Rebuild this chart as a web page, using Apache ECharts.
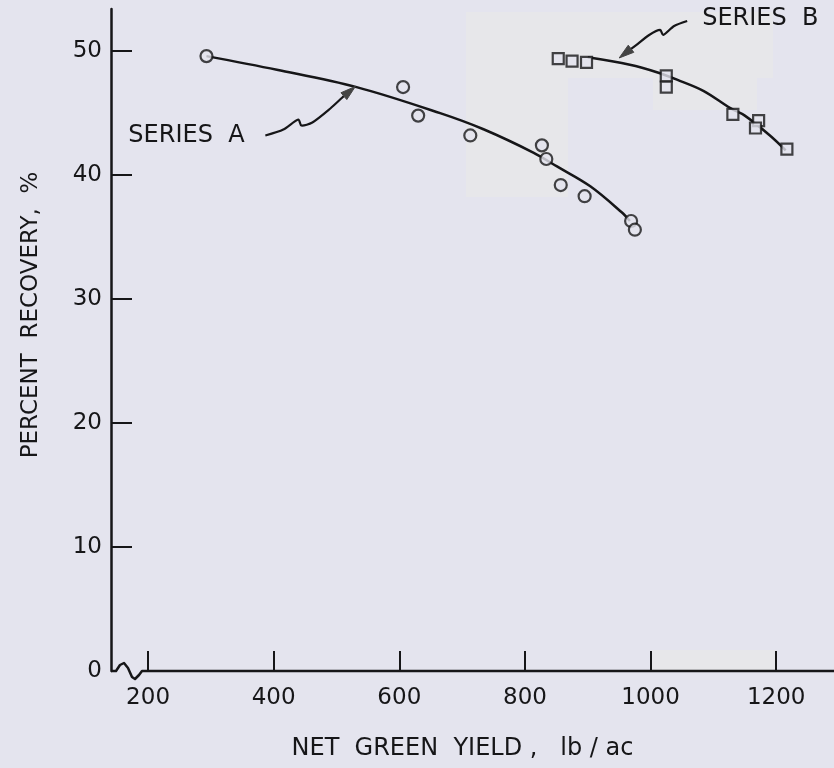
<!DOCTYPE html>
<html>
<head>
<meta charset="utf-8">
<script src="https://cdn.jsdelivr.net/npm/echarts@6/dist/echarts.min.js"></script>
<style>
  html, body { margin: 0; padding: 0; background: #e4e4ee; }
  #chart { width: 834px; height: 768px; }
</style>
</head>
<body>
<div id="chart"></div>
<script>
// Axis ticks
const xTicks = [200, 400, 600, 800, 1000, 1200];
const yTicks = [0, 10, 20, 30, 40, 50];

// Observations: [net green yield (lb/ac), percent recovery]
const seriesAPoints = [
  [293, 49.6], [606, 47.1], [630, 44.8], [713, 43.2], [827, 42.4],
  [834, 41.3], [857, 39.2], [895, 38.3], [969, 36.3], [975, 35.6]
];
const seriesBPoints = [
  [853, 49.4], [875, 49.2], [898, 49.1], [1025, 48.0], [1025, 47.1],
  [1131, 44.9], [1172, 44.4], [1167, 43.8], [1217, 42.1]
];

// Hand-fitted curves through each series
const seriesACurve = [
  [293, 49.6], [405, 48.5], [532, 47.1], [665, 45.0], [734, 43.7],
  [814, 41.8], [851, 40.7], [904, 39.1], [954, 37.0], [967, 36.3]
];
const seriesBCurve = [
  [900, 49.5], [967, 48.9], [1010, 48.3], [1042, 47.7], [1084, 46.8],
  [1127, 45.4], [1150, 44.8], [1190, 43.2], [1215, 42.0]
];

const seriesLabels = ['SERIES  A', 'SERIES  B'];
const xTitle = 'NET  GREEN  YIELD ,   lb / ac';
const yTitle = 'PERCENT  RECOVERY,  %';

const BG = '#e4e4ee';
const INK = '#161618';
const FONT = 'DejaVu Sans';
const X_MIN = 141;

const plain = v => String(v);

const chart = echarts.init(document.getElementById('chart'), null, { renderer: 'canvas' });

chart.setOption({
  backgroundColor: BG,
  animation: false,
  grid: { left: 111, right: 0, top: 9, bottom: 97 },
  xAxis: {
    type: 'value',
    min: X_MIN,
    max: 1292,
    axisLine: { show: false },
    axisTick: {
      show: true, inside: true, length: 20, customValues: xTicks,
      lineStyle: { color: INK, width: 2 }
    },
    axisLabel: {
      customValues: xTicks, margin: 16, fontSize: 23, color: INK,
      fontFamily: FONT, formatter: plain
    },
    splitLine: { show: false },
    name: xTitle,
    nameLocation: 'middle',
    nameGap: 66,
    nameTextStyle: { fontSize: 24, color: INK, fontFamily: FONT, padding: [0, 20, 0, 0] }
  },
  yAxis: {
    type: 'value',
    min: 0,
    max: 53.4,
    axisLine: { show: true, lineStyle: { color: INK, width: 2.5, cap: 'round' } },
    axisTick: {
      show: true, inside: true, length: 21, customValues: [10, 20, 30, 40, 50],
      lineStyle: { color: INK, width: 2 }
    },
    axisLabel: {
      customValues: yTicks, margin: 9, fontSize: 23, color: INK,
      fontFamily: FONT, formatter: plain
    },
    splitLine: { show: false },
    name: yTitle,
    nameLocation: 'middle',
    nameGap: 68,
    nameRotate: 90,
    nameTextStyle: { fontSize: 23, color: INK, fontFamily: FONT, padding: [0, 0, 0, 50] }
  },
  series: [
    {
      name: 'curveA', type: 'line', data: seriesACurve, smooth: 0.35,
      showSymbol: false, silent: true, z: 2,
      lineStyle: { color: INK, width: 2.5 }
    },
    {
      name: 'curveB', type: 'line', data: seriesBCurve, smooth: 0.35,
      showSymbol: false, silent: true, z: 2,
      lineStyle: { color: INK, width: 2.5 }
    },
    {
      name: 'Series A', type: 'scatter', data: seriesAPoints, symbol: 'circle',
      symbolSize: 12, z: 3,
      itemStyle: { color: BG, borderColor: INK, borderWidth: 2.2 }
    },
    {
      name: 'Series B', type: 'scatter', data: seriesBPoints, symbol: 'rect',
      symbolSize: 11, z: 3,
      itemStyle: { color: BG, borderColor: INK, borderWidth: 2.2 }
    }
  ]
});

// Decorations drawn in pixel space around points located by the axes
function px(v) { return chart.convertToPixel({ gridIndex: 0 }, v); }

function arrow(tip, offsets) {
  const pts = offsets.map(o => [tip[0] + o[0], tip[1] + o[1]]);
  const last = pts[pts.length - 1];
  const dx = tip[0] - last[0], dy = tip[1] - last[1];
  const len = Math.hypot(dx, dy);
  const ux = dx / len, uy = dy / len;
  const headLen = 15, headW = 4.5;
  const base = [tip[0] - ux * headLen, tip[1] - uy * headLen];
  pts.push(base);
  return [
    {
      type: 'polyline', z: 5, silent: true,
      shape: { points: pts, smooth: 0.25 },
      style: { stroke: INK, lineWidth: 2.2, fill: null }
    },
    {
      type: 'polygon', z: 5, silent: true,
      shape: {
        points: [
          tip,
          [base[0] - uy * headW, base[1] + ux * headW],
          [base[0] + uy * headW, base[1] - ux * headW]
        ]
      },
      style: { fill: '#444', stroke: '#444', lineWidth: 1 }
    }
  ];
}

const origin = px([X_MIN, 0]);
const xEnd = 834;
const ox = origin[0], oy = origin[1];

// Axis break: short hook off the y axis, a zigzag, then the x axis line
const xAxisParts = [
  {
    type: 'polyline', z: 4, silent: true,
    shape: {
      points: [
        [ox, oy], [ox + 5, oy], [ox + 9, oy - 6], [ox + 13, oy - 8],
        [ox + 17, oy - 3], [ox + 21, oy + 6], [ox + 24, oy + 8],
        [ox + 28, oy + 4], [ox + 31, oy], [xEnd, oy]
      ],
      smooth: 0
    },
    style: { stroke: INK, lineWidth: 2.5, fill: null, lineJoin: 'round' }
  }
];

// Faint lighter patches of the paper
const patches = [
  { x: 466, y: 12, w: 102, h: 185 },
  { x: 568, y: 12, w: 205, h: 66 },
  { x: 653, y: 43, w: 104, h: 67 },
  { x: 651, y: 650, w: 125, h: 20 }
].map(p => ({
  type: 'rect', z: -1, silent: true,
  shape: { x: p.x, y: p.y, width: p.w, height: p.h },
  style: { fill: '#e7e7ea' }
}));

const tipA = px([530, 47.15]);
const tipB = px([950, 49.45]);

const labels = [
  {
    type: 'text', z: 5, silent: true,
    x: tipA[0] - 227, y: tipA[1] + 49,
    style: {
      text: seriesLabels[0], fill: INK, font: '24px "DejaVu Sans"',
      textAlign: 'left', textVerticalAlign: 'middle'
    }
  },
  {
    type: 'text', z: 5, silent: true,
    x: tipB[0] + 83, y: tipB[1] - 39,
    style: {
      text: seriesLabels[1], fill: INK, font: '24px "DejaVu Sans"',
      textAlign: 'left', textVerticalAlign: 'middle'
    }
  }
];

const arrows = [
  ...arrow(tipA, [[-90, 49], [-72, 43], [-57, 33], [-54, 39], [-43, 36], [-25, 22], [-13, 11]]),
  ...arrow(tipB, [[68, -37], [55, -32], [44, -23], [41, -28], [30, -23], [16, -12], [9, -7]])
];

chart.setOption({ graphic: [...patches, ...xAxisParts, ...labels, ...arrows] });
</script>
</body>
</html>
